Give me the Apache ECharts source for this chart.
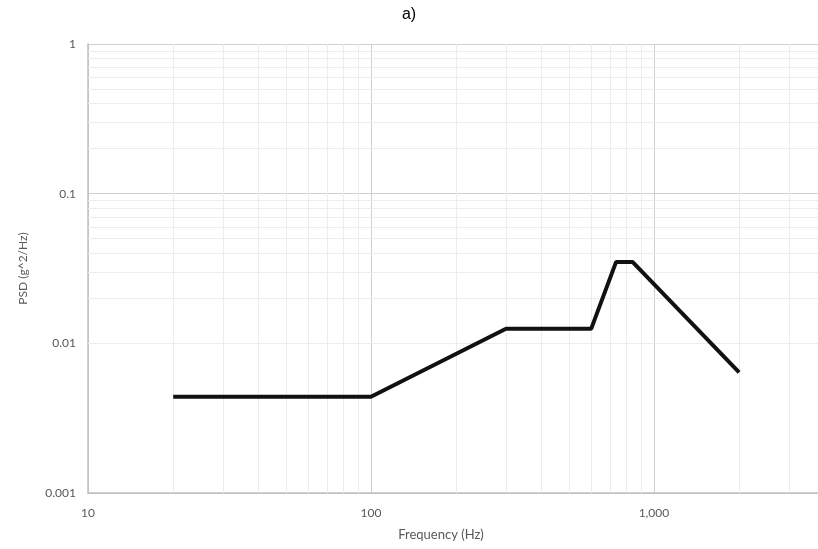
<!DOCTYPE html>
<html>
<head>
<meta charset="utf-8">
<script src="https://cdn.jsdelivr.net/npm/echarts@6/dist/echarts.min.js"></script>
<style>
  html, body { margin: 0; padding: 0; background: #fff; }
  #chart { width: 818px; height: 549px; }
</style>
</head>
<body>
<div id="chart"></div>
<script>
// PSD profile (frequency in Hz, PSD in g^2/Hz)
const freq = [20, 100, 300, 600, 735, 840, 2000];
const psd = [0.0044, 0.0044, 0.0125, 0.0125, 0.035, 0.035, 0.0064];

// minor gridlines, like Excel's log minor grid
const xMinor = [20, 30, 40, 50, 60, 70, 80, 90, 200, 300, 400, 500, 600, 700, 800, 900,
  2000, 3000];
const yMinor = [0.002, 0.003, 0.004, 0.005, 0.006, 0.007, 0.008, 0.009,
  0.02, 0.03, 0.04, 0.05, 0.06, 0.07, 0.08, 0.09,
  0.2, 0.3, 0.4, 0.5, 0.6, 0.7, 0.8, 0.9];

const chart = echarts.init(document.getElementById('chart'));

const font = 'Lato, "Open Sans", sans-serif';

chart.setOption({
  animation: false,
  title: {
    text: 'a)',
    left: 'center',
    top: 2,
    textStyle: { fontFamily: 'Liberation Sans, Arial', fontSize: 16, fontWeight: 'normal', color: '#000' }
  },
  graphic: [{
    type: 'text',
    x: 441,
    y: 535,
    style: {
      text: 'Frequency (Hz)',
      fontFamily: font,
      fontSize: 13,
      fill: '#595959',
      align: 'center',
      verticalAlign: 'middle'
    }
  }],
  // the reference is cropped on the right, so the axis just stops at ~3800 Hz
  grid: { left: 88, top: 44, bottom: 56, right: 0 },
  xAxis: {
    type: 'log',
    logBase: 10,
    min: 10,
    max: 3800,
    axisLine: { lineStyle: { color: '#bfbfbf', width: 1.5 } },
    axisTick: { show: false },
    axisLabel: {
      margin: 14,
      color: '#595959',
      fontFamily: font,
      fontSize: 12,
      showMaxLabel: false,
      formatter: v => Math.round(v).toLocaleString('en-US')
    },
    splitLine: { show: true, lineStyle: { color: '#cfcfcf', width: 1 } }
  },
  yAxis: {
    type: 'log',
    logBase: 10,
    min: 0.001,
    max: 1,
    name: 'PSD (g^2/Hz)',
    nameLocation: 'middle',
    nameGap: 59,
    nameTextStyle: { color: '#595959', fontFamily: font, fontSize: 12 },
    axisLine: { show: true, lineStyle: { color: '#bfbfbf', width: 1.5 } },
    axisTick: { show: false },
    axisLabel: {
      margin: 12,
      color: '#595959',
      fontFamily: font,
      fontSize: 12,
      formatter: v => String(Number(v.toPrecision(3)))
    },
    splitLine: { show: true, lineStyle: { color: '#cfcfcf', width: 1 } }
  },
  series: [
    {
      type: 'line',
      z: 1,
      data: [],
      silent: true,
      markLine: {
        z: 1,
        silent: true,
        symbol: 'none',
        label: { show: false },
        lineStyle: { color: '#ececec', width: 1, type: 'solid' },
        data: xMinor.map(v => ({ xAxis: v })).concat(yMinor.map(v => ({ yAxis: v })))
      }
    },
    {
      type: 'line',
      z: 10,
      data: freq.map((f, i) => [f, psd[i]]),
      showSymbol: false,
      lineStyle: { color: '#111', width: 4 }
    }
  ]
});
</script>
</body>
</html>
